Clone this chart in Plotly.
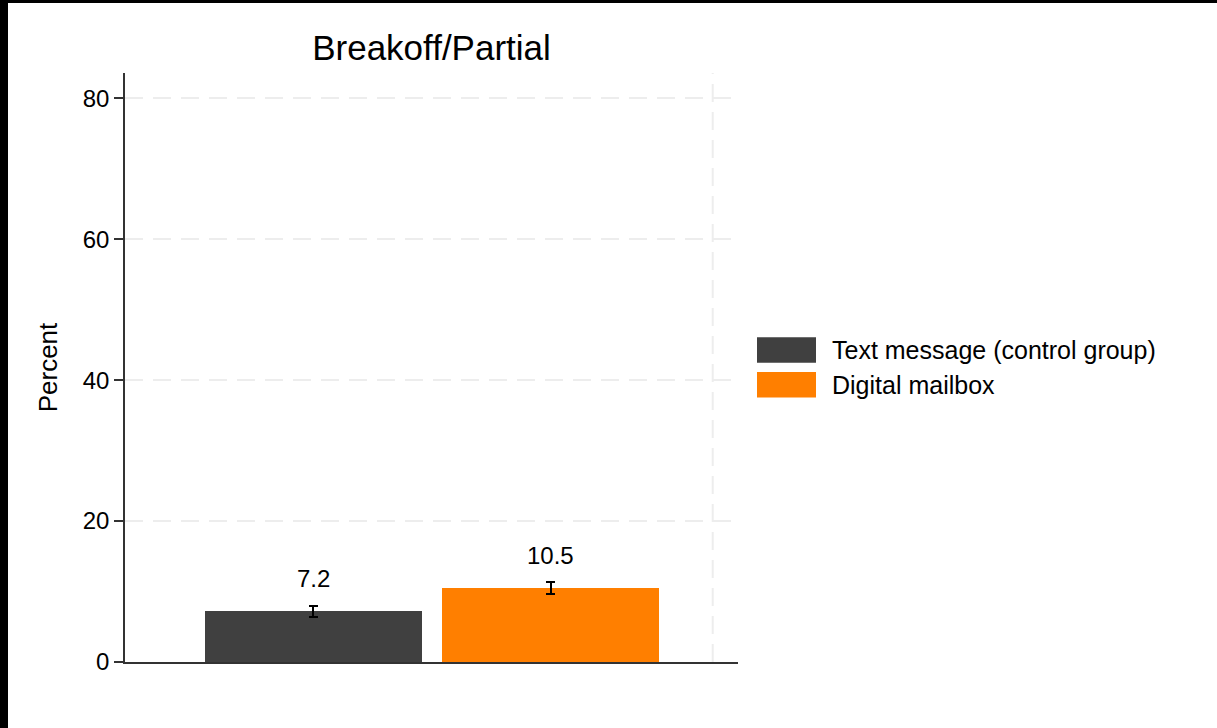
import plotly.graph_objects as go

# ---- data ----
categories = ["Text message (control group)", "Digital mailbox"]
values = [7.2, 10.5]
errors = [0.75, 0.85]
bar_colors = ["#404040", "#FF7F00"]
value_labels = ["7.2", "10.5"]
y_ticks = [0, 20, 40, 60, 80]
title_text = "Breakoff/Partial"
y_title = "Percent"

W, H = 1217, 728
L, R, T, B = 125, 738, 73, 662
FONT = "Liberation Sans, Arial, Helvetica, sans-serif"

def px2x(px):
    return (px - L) / (R - L)

def py2y(py):
    return (B - py) / (B - T)

x_pos = [1, 2]

fig = go.Figure()
for i in range(len(categories)):
    fig.add_trace(go.Bar(
        x=[x_pos[i]], y=[values[i]], width=0.913,
        marker=dict(color=bar_colors[i], line=dict(width=0)),
        error_y=dict(type="data", array=[errors[i]], color="black",
                     thickness=2, width=4.5),
        name=categories[i], showlegend=False,
    ))

annotations = []
for i in range(len(categories)):
    annotations.append(dict(
        x=x_pos[i], y=values[i] + errors[i], xref="x", yref="y",
        text=value_labels[i], showarrow=False, yanchor="middle",
        yshift=27, font=dict(family=FONT, size=24, color="black")))

shapes = []
# legend swatches + text
leg_tops = [337.3, 372]
for i in range(len(categories)):
    shapes.append(dict(type="rect", xref="paper", yref="paper",
                       x0=px2x(757), x1=px2x(816),
                       y0=py2y(leg_tops[i] + 25.5), y1=py2y(leg_tops[i]),
                       fillcolor=bar_colors[i], line=dict(width=0)))
    annotations.append(dict(x=px2x(830), y=py2y(leg_tops[i] + 12.75),
                            xref="paper", yref="paper", xanchor="left",
                            yanchor="middle", showarrow=False,
                            text=categories[i],
                            font=dict(family=FONT, size=25, color="black")))

# vertical dashed reference line at right of plot
shapes.append(dict(type="line", xref="x", yref="paper", x0=2.6835, x1=2.6835,
                   y0=0, y1=1, line=dict(color="#ededed", width=2, dash="18px,10px"),
                   layer="below"))
# black frame stripes (screenshot border)
shapes.append(dict(type="rect", xref="paper", yref="paper",
                   x0=px2x(-5), x1=px2x(8), y0=py2y(740), y1=py2y(-5),
                   fillcolor="black", line=dict(width=0)))
shapes.append(dict(type="rect", xref="paper", yref="paper",
                   x0=px2x(-5), x1=px2x(1230), y0=py2y(3), y1=py2y(-5),
                   fillcolor="black", line=dict(width=0)))

fig.update_layout(
    width=W, height=H,
    margin=dict(l=L, r=W - R, t=T, b=H - B, autoexpand=False),
    paper_bgcolor="white", plot_bgcolor="white",
    font=dict(family=FONT, size=24, color="black"),
    title=dict(text=title_text, x=0.5, xref="paper", xanchor="center",
               y=1 - 48 / H, yref="container", yanchor="middle",
               font=dict(family=FONT, size=35, color="black")),
    xaxis=dict(range=[0.2069, 2.790], showticklabels=False, ticks="",
               showgrid=False, zeroline=False, showline=True,
               linecolor="#333333", linewidth=1.5),
    yaxis=dict(range=[0, 83.6], tickvals=y_ticks, ticks="outside", ticklen=9,
               tickwidth=1.5, tickcolor="#333333",
               showline=True, linecolor="#333333", linewidth=1.5,
               showgrid=True, gridcolor="#ededed", gridwidth=2,
               griddash="18px,10px", zeroline=False,
               tickfont=dict(family=FONT, size=24, color="black"),
               title=dict(text=y_title, standoff=18,
                          font=dict(family=FONT, size=26, color="black"))),
    annotations=annotations, shapes=shapes, bargap=0,
)

fig.write_html("out.html", config={"displayModeBar": False},
               post_script="document.body.style.margin='0px';document.body.style.overflow='hidden';")
